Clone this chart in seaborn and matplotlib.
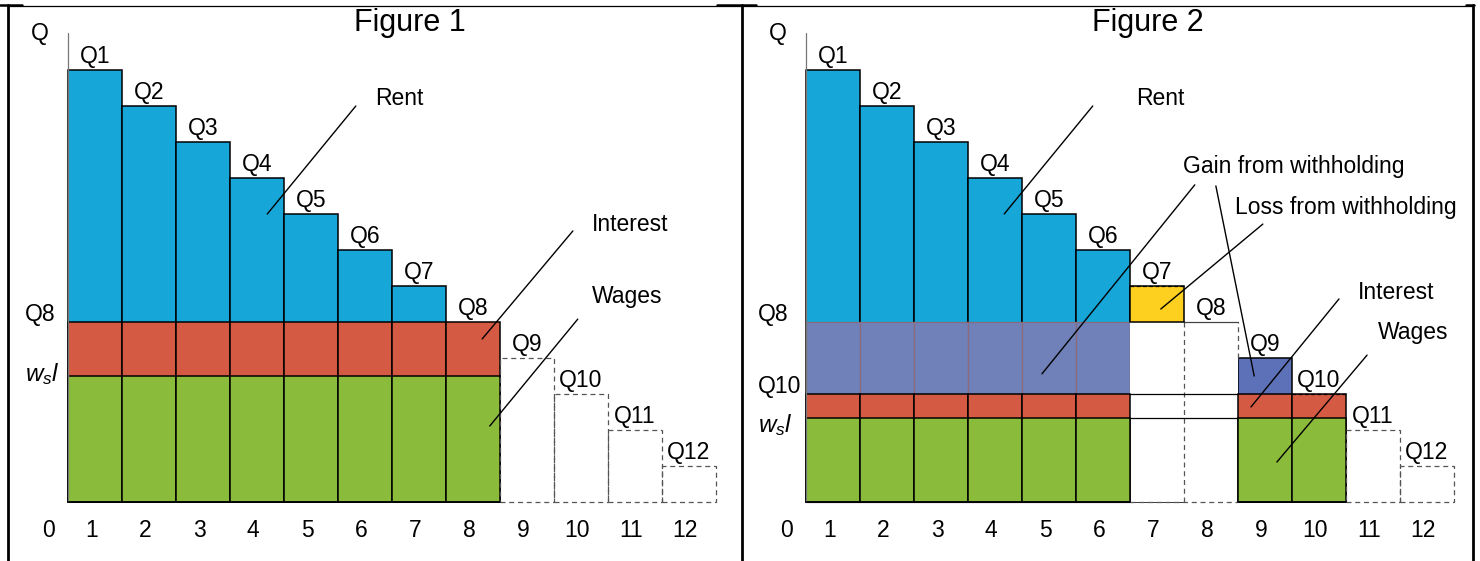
import matplotlib
matplotlib.use("Agg")
import matplotlib.pyplot as plt
import seaborn as sns

# -------------------------------
# Data (units of output per plot)
# -------------------------------
plots = list(range(1, 13))
output = [12, 11, 10, 9, 8, 7, 6, 5, 4, 3, 2, 1]
q_labels = ["Q1", "Q2", "Q3", "Q4", "Q5", "Q6", "Q7", "Q8", "Q9", "Q10", "Q11", "Q12"]
x_labels = ["0", "1", "2", "3", "4", "5", "6", "7", "8", "9", "10", "11", "12"]

# Figure 1: plots 1-8 in use, margin at Q8
fig1_used = [1, 2, 3, 4, 5, 6, 7, 8]
fig1_margin = 5.0
fig1_wage = 3.5

# Figure 2: plots 7 and 8 withheld, margin moves to Q10
fig2_rent_plots = [1, 2, 3, 4, 5, 6]
fig2_withheld = [7, 8]
fig2_used = [1, 2, 3, 4, 5, 6, 9, 10]
fig2_q8 = 5.0
fig2_margin = 3.0
fig2_wage = 2.33

BLUE = "#17a6d8"
RED = "#d55a43"
GREEN = "#8bbb3b"
PURPLE = "#6f81b8"
PURPLE9 = "#5d71b8"
YELLOW = "#fdd020"
DASH = "#555555"

sns.set_style("white")
plt.rcParams["font.family"] = ["Liberation Sans", "DejaVu Sans"]
plt.rcParams["text.color"] = "black"
plt.rcParams["mathtext.fontset"] = "custom"
plt.rcParams["mathtext.it"] = "Liberation Sans:italic"
plt.rcParams["mathtext.rm"] = "Liberation Sans"

FS = 16.5
LW = 1.1

fig = plt.figure(figsize=(14.8, 5.61), dpi=100)

# axes map: 54 px per plot, 36 px per unit, baseline at y=502 px
ax1 = fig.add_axes([0, 0, 740 / 1480, 1])
ax2 = fig.add_axes([740 / 1480, 0, 740 / 1480, 1])


def bars(ax, x, y, color, edge="black", lw=LW, **kw):
    sns.barplot(x=x, y=y, native_scale=True, width=1, color=color,
                saturation=1, edgecolor=edge, linewidth=lw,
                errorbar=None, ax=ax, **kw)


def outline(ax, x, y):
    sns.barplot(x=x, y=y, native_scale=True, width=1, fill=False,
                color=DASH, linewidth=0.9, linestyle=(0, (4, 3)),
                errorbar=None, ax=ax)


def common(ax, title, used_top):
    # y axis line and labels
    ax.plot([0.5, 0.5], [0, 13.03], color="#777777", lw=0.9, zorder=5)
    ax.text(-0.02, 13.02, "Q", fontsize=FS, ha="center", va="center")
    for i, q in enumerate(q_labels):
        ax.text(plots[i], output[i] + 0.38, q, fontsize=FS,
                ha="center", va="center")
    ax.text(0.14, -0.78, x_labels[0], fontsize=FS, ha="center", va="center")
    for i, lab in enumerate(x_labels[1:]):
        ax.text(plots[i] - 0.07, -0.78, lab, fontsize=FS,
                ha="center", va="center")
    ax.text(6.83, 13.3, title, fontsize=22, ha="center", va="center")
    ax.plot([0.5, used_top], [0, 0], color="black", lw=LW, zorder=5)


def note(ax, txt, tx, ty, lines):
    ax.text(tx, ty, txt, fontsize=FS, ha="left", va="center")
    for (x0, y0, x1, y1) in lines:
        ax.plot([x0, x1], [y0, y1], color="black", lw=1.0, zorder=6)


# ----------------------------
# Figure 1
# ----------------------------
bars(ax1, plots[:7], output[:7], BLUE)
bars(ax1, fig1_used, [fig1_margin] * len(fig1_used), RED)
bars(ax1, fig1_used, [fig1_wage] * len(fig1_used), GREEN)
outline(ax1, plots[8:], output[8:])
common(ax1, "Figure 1", 8.5)
ax1.text(-0.3, fig1_margin + 0.2, "Q8", fontsize=FS, ha="left", va="center")
ax1.text(-0.3, fig1_wage + 0.05, r"$w_s l$", fontsize=FS + 1, ha="left", va="center")
note(ax1, "Rent", 6.19, 11.22, [(5.83, 11.0, 4.19, 8.0)])
note(ax1, "Interest", 10.2, 7.72, [(9.85, 7.53, 8.17, 4.53)])
note(ax1, "Wages", 10.2, 5.72, [(9.94, 5.08, 8.31, 2.11)])

# ----------------------------
# Figure 2
# ----------------------------
bars(ax2, fig2_rent_plots, output[:6], BLUE)
bars(ax2, [7], [output[6]], YELLOW)
bars(ax2, fig2_rent_plots, [fig2_q8] * 6, PURPLE, edge="#8a6a7c", lw=0.9)
bars(ax2, [9], [output[8]], PURPLE9)
bars(ax2, fig2_withheld, [fig2_q8] * 2, "white", edge="none")
bars(ax2, fig2_used, [fig2_margin] * len(fig2_used), RED)
bars(ax2, fig2_used, [fig2_wage] * len(fig2_used), GREEN)
outline(ax2, plots[10:], output[10:])

# withheld plots: dashed edges, lines carrying the margins across
ax2.plot([7.5, 7.5], [0, fig2_q8], color=DASH, lw=0.9, ls=(0, (4, 3)))
ax2.plot([8.5, 8.5], [output[8], fig2_q8], color=DASH, lw=0.9, ls=(0, (4, 3)))
ax2.plot([6.5, 8.5], [0, 0], color=DASH, lw=0.9, ls=(0, (4, 3)))
ax2.plot([7.5, 8.5], [fig2_q8, fig2_q8], color="#444444", lw=0.9)
ax2.plot([6.5, 7.5], [fig2_q8, fig2_q8], color="black", lw=LW)
ax2.plot([6.5, 8.5], [fig2_margin, fig2_margin], color="black", lw=0.9)
ax2.plot([6.5, 8.5], [fig2_wage, fig2_wage], color="black", lw=0.9)
ax2.plot([6.5, 7.5], [output[6], output[6]], color="black", lw=0.9, ls=(0, (3, 2)))
ax2.plot([9.5, 10.5], [fig2_margin, fig2_margin], color="black", lw=0.9, ls=(0, (3, 2)))

common(ax2, "Figure 2", 6.5)
ax2.plot([8.5, 10.5], [0, 0], color="black", lw=LW, zorder=5)
ax2.text(-0.39, fig2_q8 + 0.2, "Q8", fontsize=FS, ha="left", va="center")
ax2.text(-0.39, fig2_margin + 0.22, "Q10", fontsize=FS, ha="left", va="center")
ax2.text(-0.39, fig2_wage - 0.2, r"$w_s l$", fontsize=FS + 1, ha="left", va="center")
note(ax2, "Rent", 6.61, 11.22, [(5.81, 11.0, 4.17, 8.0)])
note(ax2, "Gain from withholding", 7.48, 9.33,
     [(7.70, 8.81, 4.87, 3.56), (8.09, 8.78, 8.80, 3.5)])
note(ax2, "Loss from withholding", 8.44, 8.19, [(8.96, 7.72, 7.07, 5.36)])
note(ax2, "Interest", 10.72, 5.81, [(10.37, 5.64, 8.74, 2.64)])
note(ax2, "Wages", 11.09, 4.72, [(10.89, 4.08, 9.22, 1.11)])

for ax, x_axis in [(ax1, 68), (ax2, 806)]:
    left = 740 if ax is ax2 else 0
    ax.set_xlim(0.5 - (x_axis - left) / 54, 0.5 + (left + 740 - x_axis) / 54)
    ax.set_ylim(-59 / 36, 502 / 36)
    ax.set_axis_off()

# table borders around the two panels
frame = fig.add_axes([0, 0, 1, 1], zorder=10)
frame.set_xlim(0, 1480)
frame.set_ylim(561, 0)
frame.set_axis_off()
frame.plot([7, 1472], [5.5, 5.5], color="black", lw=0.9)
for xb in [8, 741.5, 1472.5]:
    frame.plot([xb, xb], [5, 561], color="black", lw=2.0)
for (xa, xb) in [(0, 22), (717, 756), (1466, 1474)]:
    frame.plot([xa, xb], [5, 5], color="black", lw=1.8)

plt.savefig("out.png", dpi=100)
plt.close()
